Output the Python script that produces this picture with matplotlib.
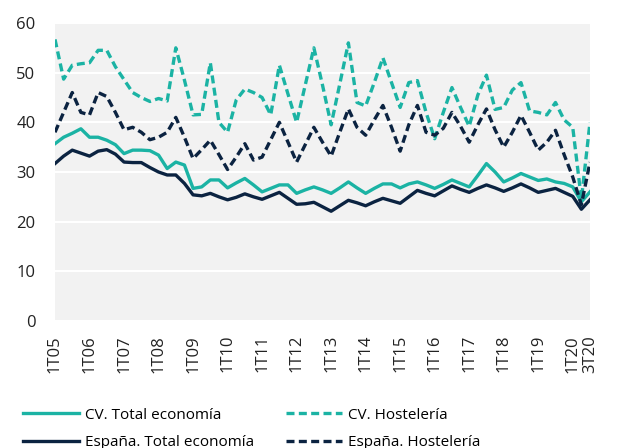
import matplotlib
matplotlib.use('Agg')
import matplotlib.pyplot as plt

# trimestres 1T05 .. 3T20
quarters = ['%dT%02d' % (q, y) for y in range(5, 21) for q in range(1, 5)][:63]
tick_labels = ['1T%02d' % y for y in range(5, 21)] + ['3T20']

cv_total = [35.7, 37.0, 37.8, 38.7, 37.0, 37.0, 36.4, 35.5, 33.7, 34.4,
            34.4, 34.3, 33.4, 30.7, 32.0, 31.4, 26.7, 27.0, 28.4, 28.4,
            26.8, 27.8, 28.7, 27.4, 26.0, 26.7, 27.4, 27.4, 25.7, 26.4,
            27.0, 26.4, 25.7, 26.8, 28.0, 26.8, 25.7, 26.7, 27.6, 27.6,
            26.8, 27.6, 28.0, 27.4, 26.7, 27.5, 28.4, 27.7, 27.0, 29.3,
            31.7, 30.0, 28.0, 28.8, 29.7, 29.0, 28.3, 28.6, 28.0, 27.7,
            27.0, 24.0, 26.0]
cv_host = [56.7, 48.7, 51.5, 51.8, 52.0, 54.5, 54.5, 51.2, 48.6, 46.0,
           45.0, 44.2, 44.8, 44.3, 55.0, 48.5, 41.5, 41.6, 52.0, 40.0,
           38.0, 44.5, 46.7, 46.0, 45.0, 41.5, 51.5, 45.7, 40.0, 47.5,
           55.0, 47.5, 39.5, 47.7, 56.0, 44.0, 43.3, 48.0, 53.0, 48.0,
           43.0, 48.0, 48.4, 42.0, 36.7, 42.0, 47.0, 43.0, 39.2, 45.5,
           49.5, 42.6, 43.0, 46.5, 48.0, 42.3, 42.0, 41.5, 44.0, 40.5,
           39.0, 24.5, 40.0]
es_total = [31.7, 33.2, 34.4, 33.8, 33.2, 34.2, 34.5, 33.6, 32.0, 31.9,
            31.9, 30.9, 30.0, 29.4, 29.4, 27.7, 25.4, 25.2, 25.7, 25.0,
            24.4, 24.9, 25.6, 25.0, 24.5, 25.2, 25.9, 24.7, 23.5, 23.6,
            23.9, 23.0, 22.1, 23.2, 24.3, 23.8, 23.2, 24.0, 24.7, 24.2,
            23.7, 25.0, 26.3, 25.7, 25.2, 26.2, 27.2, 26.5, 25.9, 26.7,
            27.4, 26.8, 26.1, 26.8, 27.6, 26.8, 25.9, 26.3, 26.7, 25.9,
            25.1, 22.5, 24.4]
es_host = [38.0, 42.0, 46.0, 42.0, 41.5, 46.0, 45.2, 42.0, 38.5, 39.0,
           38.0, 36.5, 37.0, 38.0, 41.0, 37.0, 32.7, 34.5, 36.4, 33.5,
           30.5, 33.0, 35.7, 32.4, 33.0, 36.5, 40.0, 36.0, 32.0, 35.5,
           39.0, 36.0, 33.2, 38.0, 42.7, 39.0, 37.4, 40.5, 43.4, 39.0,
           34.2, 39.5, 43.4, 38.0, 37.4, 38.8, 42.0, 39.2, 36.0, 39.5,
           42.7, 38.5, 35.0, 38.0, 41.4, 38.0, 34.4, 36.0, 38.4, 33.5,
           29.0, 23.4, 32.0]

teal = '#1bb3a4'
navy = '#0b2341'

plt.rcParams['font.family'] = ['Open Sans', 'DejaVu Sans']
plt.rcParams['font.size'] = 12

fig = plt.figure(figsize=(6.19, 4.48), dpi=100)
ax = fig.add_axes([55/619., 1 - 321/448., 535/619., 298/448.])
ax.set_facecolor('#f2f2f2')

x = range(len(quarters))
ax.plot(x, cv_total, color=teal, lw=2.4, label='CV. Total economía')
ax.plot(x, cv_host, color=teal, lw=2.4, dashes=(2.4, 1.3), label='CV. Hostelería')
ax.plot(x, es_total, color=navy, lw=2.4, label='España. Total economía')
ax.plot(x, es_host, color=navy, lw=2.4, dashes=(2.4, 1.3), label='España. Hostelería')

ax.set_xlim(0, len(quarters) - 1)
ax.set_ylim(0, 60)
ax.set_yticks(range(0, 61, 10))
ticks = [quarters.index(t) for t in tick_labels]
ax.set_xticks(ticks)
ax.set_xticklabels(tick_labels, rotation=90)
ax.tick_params(length=0, colors='#222222', labelsize=12)
ax.tick_params(axis='y', pad=14)
ax.tick_params(axis='x', pad=10)
ax.grid(axis='y', color='white', lw=1.5)
ax.set_axisbelow(True)
for s in ax.spines.values():
    s.set_visible(False)

h, l = ax.get_legend_handles_labels()
fig.legend([h[0], h[2], h[1], h[3]], [l[0], l[2], l[1], l[3]], ncol=2,
           loc='upper left', bbox_to_anchor=(9/619., 1 - 394/448.),
           frameon=False, handlelength=3.7, handletextpad=0.35,
           columnspacing=2.1, labelspacing=0.8, fontsize=11)

plt.savefig('out.png', dpi=100)
